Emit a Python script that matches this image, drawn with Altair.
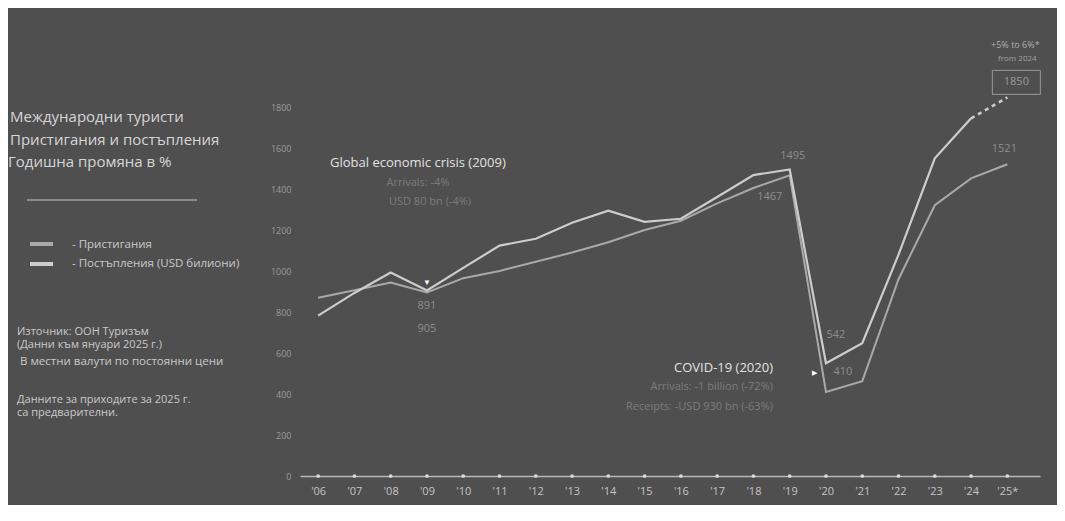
import altair as alt
import pandas as pd

years = list(range(2006, 2026))
arrivals = [870, 906, 944, 895, 965, 1000, 1045, 1090, 1140, 1200, 1245, 1330, 1405, 1467,
            410, 463, 960, 1321, 1452, 1521]
receipts = [782, 893, 993, 905, 1015, 1124, 1157, 1235, 1294, 1240, 1255, 1361, 1468, 1495,
            550, 648, 1080, 1550, 1745, 1847]
y_ticks = [0, 200, 400, 600, 800, 1000, 1200, 1400, 1600, 1800]

BG = "#4f4f4f"
FONT = "Open Sans"
C_ARR = "#a9a9a9"
C_REC = "#cdcdcd"
DIM = "#7c7c7c"
LBL = "#8e8e8e"

arr_df = pd.DataFrame({"year": years, "value": arrivals})
rec_solid = pd.DataFrame({"year": years[:-1], "value": receipts[:-1]})
rec_dash = pd.DataFrame({"year": years[-2:], "value": receipts[-2:]})
base_df = pd.DataFrame({"year": years, "value": [0] * len(years)})

xs = alt.Scale(domain=[2005.5, 2025.9], nice=False, zero=False)
ys = alt.Scale(domain=[0, 2000], nice=False)

x_axis = alt.Axis(values=years, title=None, grid=False, ticks=False,
                  domainColor="#b8b8b8", domainWidth=1.5,
                  labelColor="#c4c4c4", labelFontSize=11, labelFont=FONT, labelPadding=9,
                  labelExpr="datum.value == 2025 ? \"'25*\" : \"'\" + substring(toString(datum.value), 2, 4)")
y_axis = alt.Axis(values=y_ticks, title=None, grid=False, ticks=False, domain=False, format="d",
                  labelColor="#9c9c9c", labelFontSize=9, labelFont=FONT, labelPadding=9)

X = alt.X("year:Q", scale=xs, axis=x_axis)
Y = alt.Y("value:Q", scale=ys, axis=y_axis)

axis_dots = alt.Chart(base_df).mark_circle(size=14, color="#dcdcdc", opacity=1).encode(x=X, y=Y)

line_arr = alt.Chart(arr_df).mark_line(color=C_ARR, strokeWidth=2).encode(x=X, y=Y)
line_rec = alt.Chart(rec_solid).mark_line(color=C_REC, strokeWidth=2.2).encode(x=X, y=Y)
line_rec_dash = alt.Chart(rec_dash).mark_line(color=C_REC, strokeWidth=2.6,
                                              strokeDash=[4, 4]).encode(x=X, y=Y)


def point_label(year, value, text, dx=0, dy=0, color=LBL, size=11, align="center", weight="normal"):
    df = pd.DataFrame({"year": [year], "value": [value], "t": [text]})
    return alt.Chart(df).mark_text(dx=dx, dy=dy, color=color, fontSize=size, font=FONT,
                                   align=align, baseline="middle", fontWeight=weight).encode(
        x=X, y=Y, text="t:N")


def ri(y):
    return receipts[years.index(y)]


def ai(y):
    return arrivals[years.index(y)]


labels = [
    point_label(2019, ri(2019), "1495", dx=3, dy=-14),
    point_label(2019, ai(2019), "1467", dx=-20, dy=22),
    point_label(2009, ai(2009), "891", dy=13),
    point_label(2009, ai(2009), "905", dy=36),
    point_label(2009, ai(2009), "▼", dy=-10, color="#ffffff", size=8),
    point_label(2020, ri(2020), "542", dx=10, dy=-28),
    point_label(2020, ai(2020), "410", dx=17, dy=-20),
    point_label(2020, ai(2020), "▶", dx=-11, dy=-19, color="#ffffff", size=7),
    point_label(2025, ai(2025), "1521", dx=-3, dy=-15),
    point_label(2025, ri(2025), "1850", dx=9, dy=-15, color="#9a9a9a", size=11),
    point_label(2025, ri(2025), "+5% to 6%*", dx=8, dy=-52, color="#b0b0b0", size=9),
    point_label(2025, ri(2025), "from 2024", dx=10, dy=-38, color="#a0a0a0", size=8),
]

box = alt.Chart(pd.DataFrame({"year": [2025], "value": [ri(2025)]})).mark_rect(
    fill=None, stroke="#9a9a9a", strokeWidth=1,
    xOffset=-15, x2Offset=33, yOffset=-27, y2Offset=-3).encode(
    x=X, x2=alt.X2("year:Q"), y=Y, y2=alt.Y2("value:Q"))


def ftext(text, px, py, size=11, color="#cfcfcf", align="left", weight="normal"):
    df = pd.DataFrame({"t": [text]})
    return alt.Chart(df).mark_text(color=color, fontSize=size, font=FONT, align=align,
                                   baseline="middle", fontWeight=weight).encode(
        x=alt.value(px), y=alt.value(py), text="t:N")


def hrule(x1, x2, y, color, width):
    return alt.Chart(pd.DataFrame({"a": [0]})).mark_rule(color=color, strokeWidth=width).encode(
        x=alt.value(x1), x2=alt.value(x2), y=alt.value(y))


left = [
    ftext("Международни туристи", -290, 51, size=15, color="#d6d6d6"),
    ftext("Пристигания и постъпления", -290, 74, size=15, color="#d6d6d6"),
    ftext("Годишна промяна в %", -292, 96, size=15, color="#d6d6d6"),
    hrule(-273, -103, 134, "#c8c8c8", 1.2),
    hrule(-270, -247, 178, C_ARR, 4),
    ftext("- Пристигания", -228, 179, size=11.5, color="#cacaca"),
    hrule(-270, -247, 198, C_REC, 4),
    ftext("- Постъпления (USD билиони)", -228, 198, size=11.5, color="#cacaca"),
    ftext("Източник: ООН Туризъм", -283, 266, size=11, color="#cacaca"),
    ftext("(Данни към януари 2025 г.)", -283, 279, size=11, color="#cacaca"),
    ftext("В местни валути по постоянни цени", -280, 296, size=11.5, color="#cacaca"),
    ftext("Данните за приходите за 2025 г.", -283, 334, size=11, color="#cacaca"),
    ftext("са предварителни.", -283, 347, size=11, color="#cacaca"),
]

notes = [
    ftext("Global economic crisis (2009)", 30, 97, size=13, color="#e2e2e2"),
    ftext("Arrivals: -4%", 118, 117, size=11, color=DIM, align="center"),
    ftext("USD 80 bn (-4%)", 130, 136, size=11, color=DIM, align="center"),
    ftext("COVID-19 (2020)", 473, 302, size=13, color="#e2e2e2", align="right"),
    ftext("Arrivals: -1 billion (-72%)", 473, 321, size=11, color=DIM, align="right"),
    ftext("Receipts: -USD 930 bn (-63%)", 473, 341, size=11, color=DIM, align="right"),
]

chart = alt.layer(axis_dots, line_arr, line_rec, line_rec_dash, box, *labels, *left, *notes).properties(
    width=740, height=410,
    autosize=alt.AutoSizeParams(type="none"),
    padding={"left": 292, "top": 58, "right": 17, "bottom": 29},
    background=BG,
).configure_view(stroke=None)

chart.save("out.html", embed_options={"renderer": "svg", "actions": False})
